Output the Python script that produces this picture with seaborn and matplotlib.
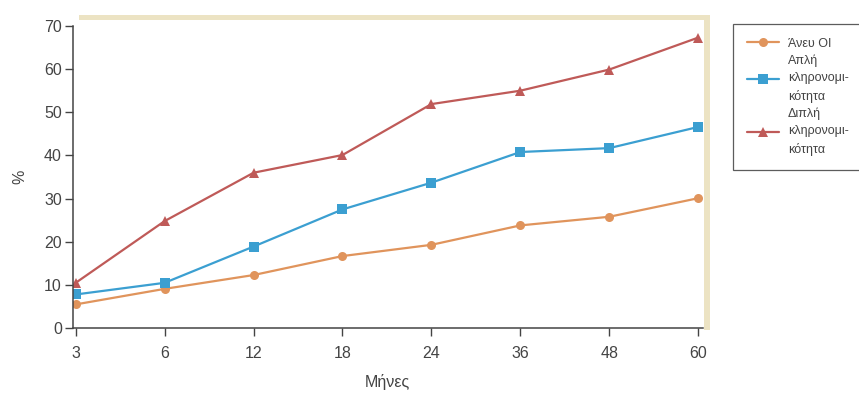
import matplotlib
matplotlib.use("Agg")
import matplotlib.pyplot as plt
import seaborn as sns
import pandas as pd
from matplotlib.patches import Rectangle
from matplotlib.lines import Line2D

months = ["3", "6", "12", "18", "24", "36", "48", "60"]
series_names = ["Άνευ ΟΙ", "Απλή\nκληρονομι-\nκότητα", "Διπλή\nκληρονομι-\nκότητα"]
aneu = [5.5, 9.1, 12.3, 16.7, 19.3, 23.8, 25.8, 30.1]
apli = [7.8, 10.5, 18.9, 27.5, 33.7, 40.8, 41.7, 46.6]
dipli = [10.5, 24.8, 36.0, 40.1, 51.9, 55.0, 59.9, 67.3]
colors = ["#e0945c", "#3b9fd1", "#bf5a58"]
markers = ["o", "s", "^"]

rows = []
for name, vals in zip(series_names, [aneu, apli, dipli]):
    for i, v in enumerate(vals):
        rows.append({"pos": i, "val": v, "series": name})
df = pd.DataFrame(rows)

sns.set_style("white")
plt.rcParams['font.family'] = ['Liberation Sans', 'DejaVu Sans']

fig = plt.figure(figsize=(8.59, 3.93), dpi=100)
fig.patch.set_facecolor("white")
ax = fig.add_axes([0.085, 0.165, 0.733, 0.769])

# light beige page frame (top and right)
fig.patches.append(Rectangle((0.092, 0.95), 0.732, 0.013, transform=fig.transFigure,
                             facecolor="#ece3c3", edgecolor="none", zorder=0))
fig.patches.append(Rectangle((0.819, 0.16), 0.008, 0.803, transform=fig.transFigure,
                             facecolor="#ece3c3", edgecolor="none", zorder=0))

sns.lineplot(data=df, x="pos", y="val", hue="series", style="series",
             palette=dict(zip(series_names, colors)),
             markers=dict(zip(series_names, markers)), dashes=False,
             markersize=6.5, linewidth=1.6, markeredgewidth=0, ax=ax, legend=False)

ax.set_xlim(-0.03, 7.05)
ax.set_ylim(0, 70)
ax.set_xticks(range(len(months)))
ax.set_xticklabels(months)
ax.set_yticks(range(0, 71, 10))
ax.tick_params(axis="both", direction="out", length=6, width=1, colors="#444444",
               labelsize=11.5, labelcolor="#444444", left=True, bottom=True)
ax.tick_params(axis="x", pad=7)
ax.tick_params(axis="y", pad=2)
for s in ["top", "right"]:
    ax.spines[s].set_visible(False)
for s in ["left", "bottom"]:
    ax.spines[s].set_color("#444444")
    ax.spines[s].set_linewidth(1.1)
ax.set_xlabel("Μήνες", fontsize=11.5, color="#444444", labelpad=9)
ax.set_ylabel("%", fontsize=11.5, color="#444444", labelpad=12)
ax.patch.set_alpha(0)

handles = [Line2D([0], [0], color=c, marker=m, markersize=6.5, linewidth=1.6,
                  markeredgewidth=0) for c, m in zip(colors, markers)]
leg = fig.legend(handles, series_names, loc="upper left",
                 bbox_to_anchor=(0.846, 0.955), frameon=True, fancybox=False,
                 edgecolor="#333333", handlelength=2.6,
                 borderpad=1.1, labelspacing=0.35, handletextpad=0.7,
                 prop={"family": ["Liberation Sans", "DejaVu Sans"], "size": 9})
leg.get_frame().set_linewidth(0.9)
for t in leg.get_texts():
    t.set_color("#444444")
    t.set_linespacing(1.6)

fig.savefig("out.png", dpi=100)
